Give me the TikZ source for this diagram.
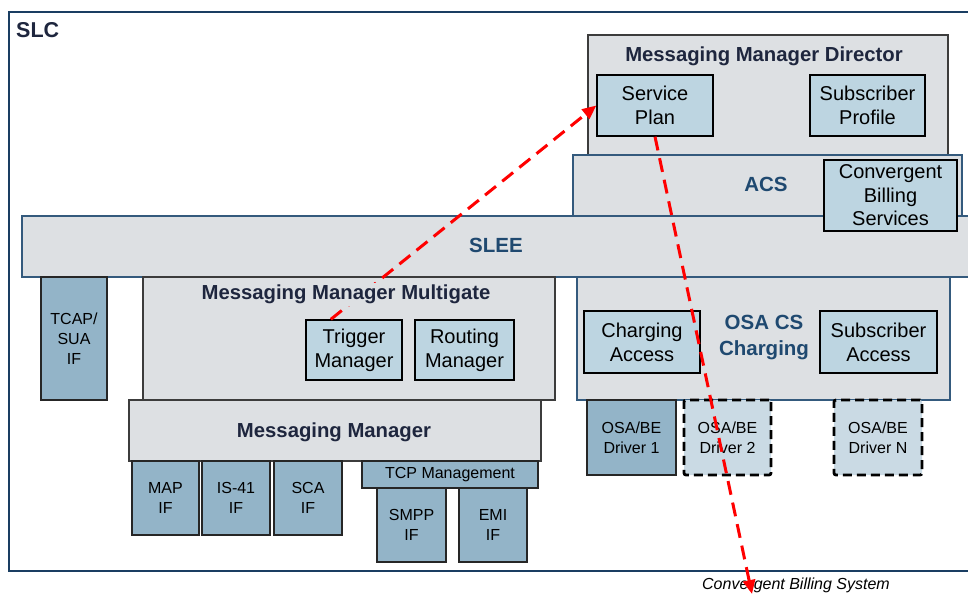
\documentclass[tikz,border=0pt]{standalone}
\usepackage{fontspec}
\setmainfont{Liberation Sans}
\usetikzlibrary{arrows.meta}
\definecolor{grayfill}{RGB}{221,224,227}
\definecolor{lightbl}{RGB}{189,213,225}
\definecolor{steel}{RGB}{147,180,200}
\definecolor{dotfill}{RGB}{202,218,228}
\definecolor{slcblue}{RGB}{26,62,98}
\definecolor{edgeblue}{RGB}{52,90,125}
\definecolor{edgegray}{RGB}{60,60,60}
\definecolor{titlecol}{RGB}{30,38,62}
\definecolor{navy}{RGB}{31,73,112}
\tikzset{
  graybox/.style={draw=edgegray, fill=grayfill, line width=1.3pt, inner sep=0pt},
  bluebox/.style={draw=edgeblue, fill=grayfill, line width=1.3pt, inner sep=0pt},
  lbox/.style={draw=black, fill=lightbl, line width=1.4pt, inner sep=0pt, align=center,
    font=\fontsize{20}{24}\selectfont},
  ifbox/.style={draw=black!85, fill=steel, line width=1.4pt, inner sep=0pt, align=center,
    font=\fontsize{16}{20}\selectfont},
  drvbox/.style={draw=black, fill=dotfill, line width=2.8pt, dash pattern=on 9pt off 5pt,
    rounded corners=2pt, inner sep=0pt, align=center, font=\fontsize{16}{20}\selectfont},
  titletext/.style={font=\bfseries\fontsize{20.3}{24}\selectfont, text=titlecol, inner sep=0pt},
  bluetext/.style={font=\bfseries\fontsize{20.5}{25}\selectfont, text=navy, inner sep=0pt, align=center},
  redarrow/.style={draw=red, line width=3pt, dash pattern=on 14pt off 8pt,
    -{Triangle[length=14pt,width=12pt]}}
}
\begin{document}
\begin{tikzpicture}[x=1pt,y=-1pt]
\path[use as bounding box] (0,0) rectangle (968,595);
\clip (0,0) rectangle (968,595);
% SLC frame
\node[draw=slcblue, line width=2.8pt, minimum width=980pt, minimum height=559pt, inner sep=0pt] (slc) at (499,291.5) {};
\node[font=\bfseries\fontsize{21.5}{25}\selectfont, text=titlecol, anchor=west, inner sep=0pt] (slcT) at (16,30) {SLC};

% Messaging Manager Director
\node[graybox, minimum width=360pt, minimum height=120pt] (mmd) at (768,95) {};
\node[titletext] (mmdT) at (764,56) {Messaging Manager Director};
\node[lbox, minimum width=116pt, minimum height=61pt] (sp) at (655,105.5) {Service\\Plan};
\node[lbox, minimum width=115pt, minimum height=61pt] (spf) at (867.5,105.5) {Subscriber\\Profile};

% ACS
\node[bluebox, minimum width=389pt, minimum height=61pt] (acs) at (767.5,185.5) {};
\node[bluetext] (acsT) at (766,184) {ACS};

% SLEE
\node[bluebox, minimum width=958pt, minimum height=61pt] (slee) at (501,246.5) {};
\node[bluetext] (sleeT) at (496,245) {SLEE};
\node[lbox, minimum width=133pt, minimum height=71pt, font=\fontsize{20}{23.5}\selectfont] (cbs) at (890.5,195.5) {Convergent\\Billing\\Services};

% left column
\node[ifbox, minimum width=66pt, minimum height=123pt] (tcap) at (74,338.5) {TCAP/\\SUA\\IF};

% Messaging Manager Multigate
\node[graybox, minimum width=412pt, minimum height=123pt] (mmm) at (349,338.5) {};
\node[lbox, minimum width=96pt, minimum height=60pt] (tm) at (354,350) {Trigger\\Manager};
\node[lbox, minimum width=99pt, minimum height=60pt] (rm) at (464.5,350) {Routing\\Manager};

% Messaging Manager
\node[graybox, minimum width=412pt, minimum height=61pt] (mm) at (335,430.5) {};
\node[titletext] (mmT) at (334,432) {Messaging Manager};
\node[ifbox, minimum width=67pt, minimum height=74pt] (map) at (165.5,498) {MAP\\IF};
\node[ifbox, minimum width=68pt, minimum height=74pt] (is41) at (236,498) {IS-41\\IF};
\node[ifbox, minimum width=68pt, minimum height=74pt] (sca) at (308,498) {SCA\\IF};
\node[ifbox, minimum width=176pt, minimum height=27pt] (tcp) at (450,474.5) {TCP Management};
\node[ifbox, minimum width=69pt, minimum height=74pt] (smpp) at (411.5,525) {SMPP\\IF};
\node[ifbox, minimum width=68pt, minimum height=74pt] (emi) at (493,525) {EMI\\IF};

% OSA CS Charging
\node[bluebox, minimum width=373pt, minimum height=123pt] (osa) at (763.5,338.5) {};
\node[bluetext, font=\bfseries\fontsize{20.5}{26}\selectfont] (osaT) at (764,338) {OSA CS\\Charging};
\node[lbox, minimum width=116pt, minimum height=62pt] (ca) at (642,342) {Charging\\Access};
\node[lbox, minimum width=117pt, minimum height=62pt] (sa) at (878.5,342) {Subscriber\\Access};
\node[ifbox, minimum width=89pt, minimum height=75pt] (d1) at (631.5,437.5) {OSA/BE\\Driver 1};
\node[drvbox, minimum width=87pt, minimum height=75pt] (d2) at (727.5,437.5) {OSA/BE\\Driver 2};
\node[drvbox, minimum width=88pt, minimum height=75pt] (dn) at (878,437.5) {OSA/BE\\Driver N};

% external label
\node[font=\itshape\fontsize{16}{19}\selectfont, inner sep=0pt] (cbsys) at (796,585) {Convergent Billing System};
\coordinate (cbsEnd) at (752,594);

% red dashed flows
\draw[redarrow] (tm.127) -- (sp.west);
\draw[redarrow] (sp.south) -- (cbsEnd);

% multigate title over the flow line
\node[titletext, fill=grayfill, inner sep=2pt] (mmmT) at (346,294) {Messaging Manager Multigate};
\end{tikzpicture}
\end{document}
